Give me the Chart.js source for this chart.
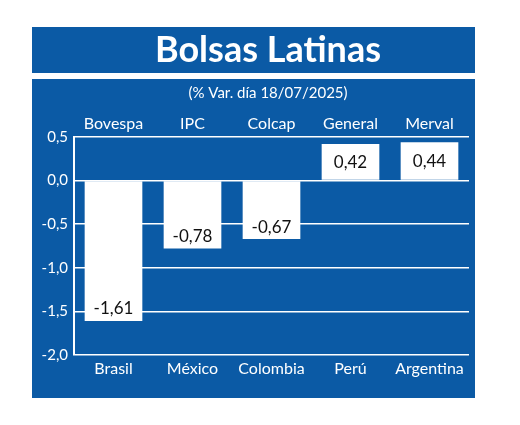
<!DOCTYPE html>
<html>
<head>
<meta charset="utf-8">
<script src="https://cdn.jsdelivr.net/npm/chart.js@4.4.1/dist/chart.umd.min.js"></script>
<style>
  body { margin: 0; background: #fff; }
  #wrap { width: 520px; height: 425px; }
</style>
</head>
<body>
<div id="wrap"><canvas id="chart" width="520" height="425"></canvas></div>
<script>
// Datos
const countries = ['Brasil', 'México', 'Colombia', 'Perú', 'Argentina'];
const indices = ['Bovespa', 'IPC', 'Colcap', 'General', 'Merval'];
const variations = [-1.61, -0.78, -0.67, 0.42, 0.44];

const BLUE = '#0b5aa5';
const FONT = 'Lato, "Open Sans", sans-serif';

const fmt = v => v.toFixed(2).replace('.', ',');

// Fondo azul y titulo
const backdrop = {
    id: 'backdrop',
    beforeDraw(chart) {
        const ctx = chart.ctx;
        ctx.save();
        ctx.fillStyle = BLUE;
        ctx.fillRect(32, 27, 443, 46);
        ctx.fillRect(32, 79, 443, 319);
        ctx.fillStyle = '#fff';
        ctx.textAlign = 'center';
        ctx.textBaseline = 'middle';
        ctx.font = 'bold 36px ' + FONT;
        ctx.fillText('Bolsas Latinas', 268, 50);
        ctx.font = '15px ' + FONT;
        ctx.fillText('(% Var. día 18/07/2025)', 268, 93);
        ctx.restore();
    },
    afterDatasetsDraw(chart) {
        const ctx = chart.ctx;
        const meta = chart.getDatasetMeta(0);
        const y = chart.scales.y;
        ctx.save();
        ctx.fillStyle = '#111';
        ctx.textAlign = 'center';
        ctx.textBaseline = 'middle';
        ctx.font = '17px ' + FONT;
        meta.data.forEach((bar, i) => {
            const v = variations[i];
            const py = v < 0 ? y.getPixelForValue(v) - 12 : (y.getPixelForValue(v) + y.getPixelForValue(0)) / 2;
            ctx.fillText(fmt(v), bar.x, py);
        });
        ctx.restore();
    }
};

new Chart(document.getElementById('chart').getContext('2d'), {
    type: 'bar',
    data: {
        labels: countries,
        datasets: [{
            data: variations,
            backgroundColor: '#ffffff',
            borderWidth: 0,
            barPercentage: 0.73,
            categoryPercentage: 1
        }]
    },
    options: {
        responsive: false,
        animation: false,
        layout: { padding: { left: 30, top: 107, right: 51, bottom: 40 } },
        plugins: { legend: { display: false }, tooltip: { enabled: false } },
        scales: {
            y: {
                min: -2, max: 0.5,
                afterFit: s => { s.width = 44; },
                ticks: {
                    stepSize: 0.5, color: '#fff', padding: 6,
                    font: { family: FONT, size: 15 },
                    callback: v => v.toFixed(1).replace('.', ',')
                },
                grid: { color: '#fff', lineWidth: 1.5, drawTicks: false },
                border: { color: '#fff', width: 2 }
            },
            x: {
                afterFit: s => { s.height = 30; },
                ticks: { color: '#fff', font: { family: FONT, size: 16 }, padding: 4 },
                grid: { display: false, drawTicks: false },
                border: { display: false }
            },
            x2: {
                type: 'category',
                position: 'top',
                labels: indices,
                afterFit: s => { s.height = 30; },
                ticks: { color: '#fff', font: { family: FONT, size: 16 }, padding: 4 },
                grid: { display: false, drawTicks: false },
                border: { display: false }
            }
        }
    },
    plugins: [backdrop]
});
</script>
</body>
</html>
